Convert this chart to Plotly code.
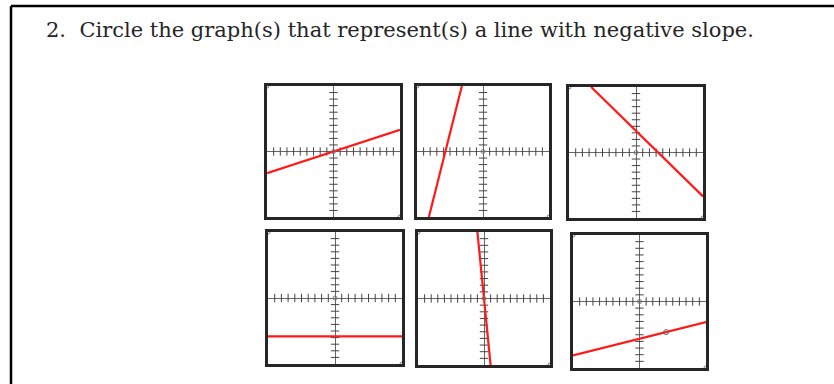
import plotly.graph_objects as go

QUESTION = "2.  Circle the graph(s) that represent(s) a line with negative slope."

# axis tick positions on every little grid
AXIS_TICKS = [-9, -8, -7, -6, -5, -4, -3, -2, -1, 1, 2, 3, 4, 5, 6, 7, 8, 9]

# red line endpoints for each of the six graphs (row by row)
LINE_X = [
    [-10, 10],
    [-8.2, -3.2],
    [-6.7, 10],
    [-10, 10],
    [-1.0, 1.0],
    [-10, 10],
]
LINE_Y = [
    [-3.3, 3.3],
    [-10, 10],
    [10, -6.7],
    [-5.8, -5.8],
    [10, -10],
    [-8.1, -3.1],
]
# extra open point on the last graph
POINT6_X = [4]
POINT6_Y = [-4.6]

# panel boxes in pixels (left, right, top, bottom)
W, H = 834, 384
PANELS = [
    (267, 400, 86, 217),
    (417, 549, 86, 217),
    (569, 703, 87, 218),
    (268, 402, 232, 364),
    (418, 550, 232, 365),
    (573, 706, 235, 368),
]

fig = go.Figure()

for i, (l, r, t, b) in enumerate(PANELS):
    n = i + 1
    xa = "x" if n == 1 else f"x{n}"
    ya = "y" if n == 1 else f"y{n}"

    # tick marks along the center axes
    fig.add_trace(go.Scatter(
        x=AXIS_TICKS, y=[0] * len(AXIS_TICKS), mode="markers",
        marker=dict(symbol="line-ns", size=6, line=dict(color="#444", width=1)),
        xaxis=xa, yaxis=ya, hoverinfo="skip", showlegend=False,
    ))
    fig.add_trace(go.Scatter(
        x=[0] * len(AXIS_TICKS), y=AXIS_TICKS, mode="markers",
        marker=dict(symbol="line-ew", size=6, line=dict(color="#444", width=1)),
        xaxis=xa, yaxis=ya, hoverinfo="skip", showlegend=False,
    ))
    # the red line
    fig.add_trace(go.Scatter(
        x=LINE_X[i], y=LINE_Y[i], mode="lines",
        line=dict(color="#ff1a1a", width=2.2),
        xaxis=xa, yaxis=ya, showlegend=False,
    ))
    # small open circles at corners and origin
    fig.add_trace(go.Scatter(
        x=[-10, 0, 10], y=[10, 0, -10], mode="markers",
        marker=dict(symbol="circle-open", size=4, color="#777", line=dict(width=1)),
        xaxis=xa, yaxis=ya, cliponaxis=False, hoverinfo="skip", showlegend=False,
    ))

    axis_style = dict(
        range=[-10, 10], showgrid=False, showticklabels=False, ticks="",
        zeroline=True, zerolinecolor="#666", zerolinewidth=1,
        showline=True, mirror=True, linecolor="#262626", linewidth=2.5,
        fixedrange=True,
    )
    fig.update_layout(**{
        ("xaxis" if n == 1 else f"xaxis{n}"): dict(domain=[l / W, r / W], anchor=ya, **axis_style),
        ("yaxis" if n == 1 else f"yaxis{n}"): dict(domain=[1 - b / H, 1 - t / H], anchor=xa, **axis_style),
    })

fig.add_trace(go.Scatter(
    x=POINT6_X, y=POINT6_Y, mode="markers",
    marker=dict(symbol="circle-open", size=5, color="#666", line=dict(width=1)),
    xaxis="x6", yaxis="y6", hoverinfo="skip", showlegend=False,
))

# outer worksheet frame (top and left edges)
fig.add_shape(type="line", xref="paper", yref="paper",
              x0=11 / W, x1=1.01, y0=1 - 6 / H, y1=1 - 6 / H,
              line=dict(color="#000", width=2.5))
fig.add_shape(type="line", xref="paper", yref="paper",
              x0=11 / W, x1=11 / W, y0=1 - 6 / H, y1=-0.01,
              line=dict(color="#000", width=2.5))

fig.add_annotation(
    text=QUESTION, xref="paper", yref="paper",
    x=44 / W, y=1 - 30 / H, xanchor="left", yanchor="middle",
    showarrow=False, font=dict(family="DejaVu Serif", size=21, color="#262626"),
)

fig.update_layout(
    width=W, height=H,
    margin=dict(l=0, r=0, t=0, b=0),
    paper_bgcolor="white", plot_bgcolor="white",
    showlegend=False,
)

# drop the browser's default page margin so the figure sits at (0, 0)
fig.write_html(
    "out.html",
    config={"displayModeBar": False},
    post_script="document.body.style.margin='0';",
)
